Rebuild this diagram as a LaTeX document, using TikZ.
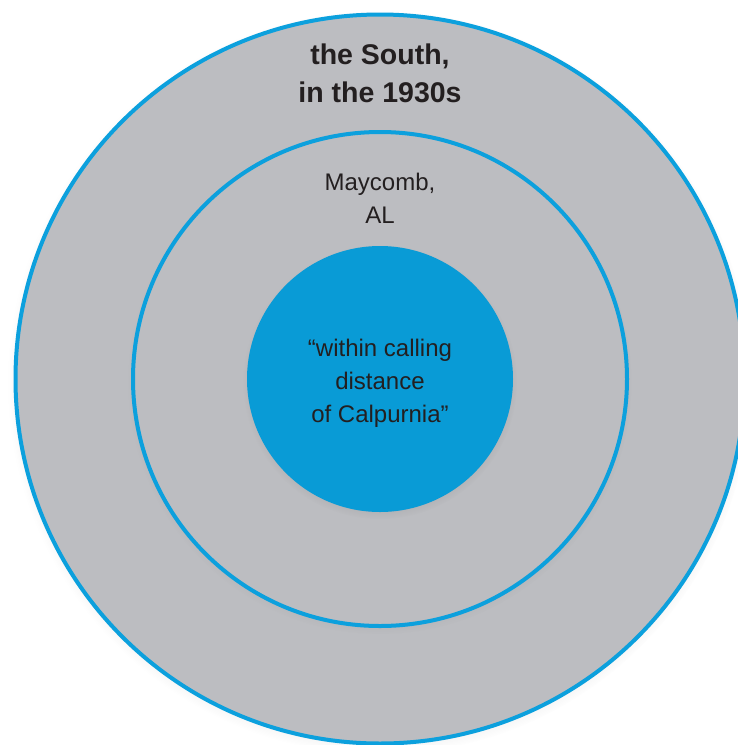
\documentclass[tikz,border=0pt]{standalone}
\usepackage{fontspec}
\setmainfont{Liberation Sans}
\usetikzlibrary{shadows}

\definecolor{ringblue}{RGB}{12,160,221}
\definecolor{discblue}{RGB}{9,155,214}
\definecolor{ringgrey}{RGB}{188,189,193}
\definecolor{inktext}{RGB}{35,31,32}

\begin{document}
\begin{tikzpicture}[x=1pt, y=-1pt,
  ring/.style={circle, inner sep=0pt, draw=ringblue, line width=4pt, fill=ringgrey,
    circular drop shadow={shadow xshift=0pt, shadow yshift=-3pt, shadow scale=1.02, opacity=.35}},
  disc/.style={circle, inner sep=0pt, fill=discblue,
    circular drop shadow={shadow xshift=0pt, shadow yshift=-3pt, shadow scale=1.03, opacity=.35}},
  ringtext/.style={align=center, text=inktext, inner sep=0pt, font=\fontsize{24}{33}\selectfont}]
  \useasboundingbox (0,0) rectangle (737,745);
  \coordinate (c) at (380,379);

  % the three circles
  \node[ring, minimum size=729pt] (south) at (c) {};
  \node[ring, minimum size=494pt] (maycomb) at (c) {};
  \node[disc, minimum size=266pt] (calling) at (c) {};

  % texts
  \node[ringtext, font=\fontsize{28.5}{38}\selectfont\bfseries] (southtext) at (380,73.5) {the South,\\in the 1930s};
  \node[ringtext] (maycombtext) at (380,198) {Maycomb,\\AL};
  \node[ringtext] (callingtext) at (380,383) {“within calling\\distance\\of Calpurnia”};
\end{tikzpicture}
\end{document}
